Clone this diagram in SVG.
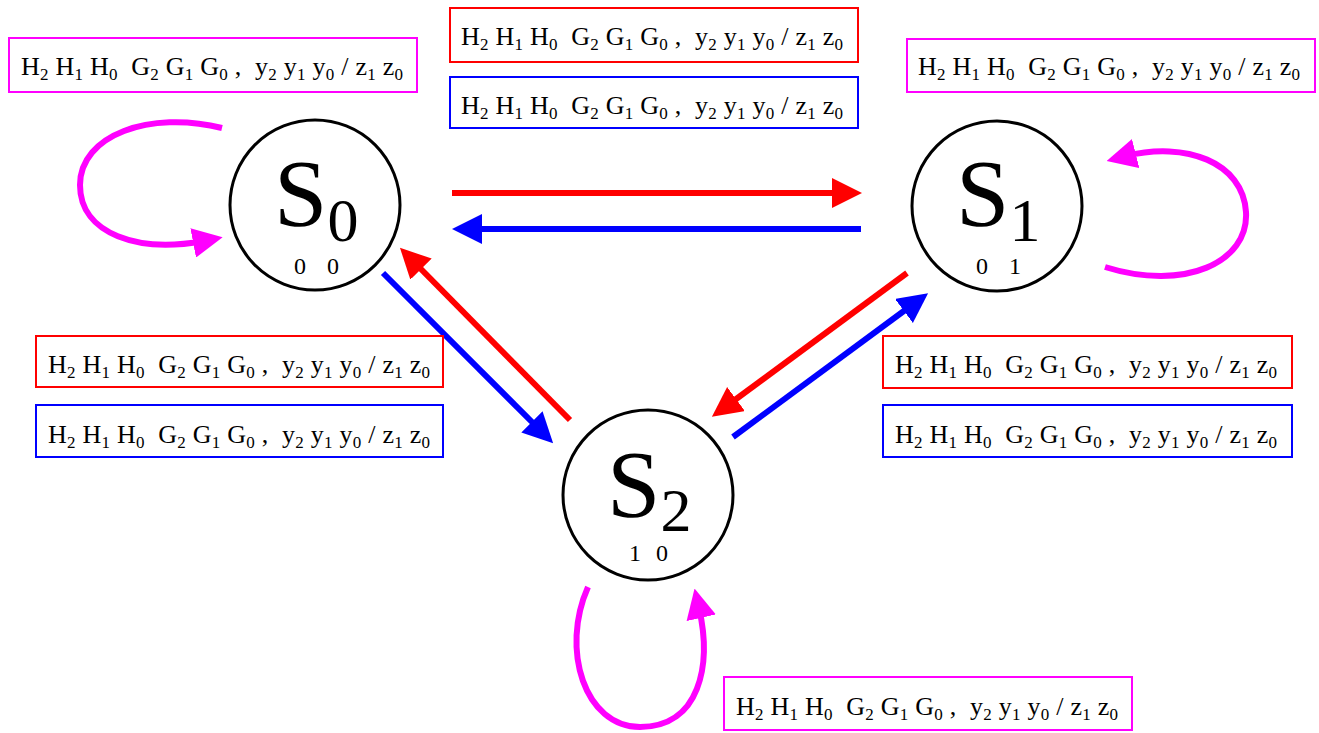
<svg xmlns="http://www.w3.org/2000/svg" width="1319" height="733" viewBox="0 0 1319 733">
<style>
.st{fill:#fff;stroke:#000;stroke-width:3}
.big{font-family:"Liberation Serif","Times New Roman",serif;font-size:96px;fill:#000}
.bsub{font-size:62px}
.code{font-family:"Liberation Serif","Times New Roman",serif;font-size:24px;fill:#000}
.box{fill:#fff;stroke-width:2}
.lbl{font-family:"Liberation Serif","Times New Roman",serif;font-size:26px;fill:#000;white-space:pre}
.s{font-size:17px}
.r{stroke:#ff0000}
.b{stroke:#0000ff}
.m{stroke:#ff00ff}
.e{fill:none;stroke-width:6}
</style>
<defs>
<marker id="ar" markerUnits="userSpaceOnUse" markerWidth="30" markerHeight="30" refX="10" refY="15" orient="auto" viewBox="0 0 30 30"><path d="M0,0 L30,15 L0,30 z" fill="#ff0000"/></marker>
<marker id="ab" markerUnits="userSpaceOnUse" markerWidth="30" markerHeight="30" refX="10" refY="15" orient="auto" viewBox="0 0 30 30"><path d="M0,0 L30,15 L0,30 z" fill="#0000ff"/></marker>
<marker id="am" markerUnits="userSpaceOnUse" markerWidth="30" markerHeight="30" refX="10" refY="15" orient="auto" viewBox="0 0 30 30"><path d="M0,0 L30,15 L0,30 z" fill="#ff00ff"/></marker>
</defs>

<g id="connectors">
<path class="e r" d="M452,193 L842,193" marker-end="url(#ar)"/>
<path class="e b" d="M861,229 L472,229" marker-end="url(#ab)"/>
<path class="e r" d="M570,420 L414,262" marker-end="url(#ar)"/>
<path class="e b" d="M383,273 L539,429" marker-end="url(#ab)"/>
<path class="e r" d="M907,273 L728,405" marker-end="url(#ar)"/>
<path class="e b" d="M733,437 L912,305" marker-end="url(#ab)"/>
<path class="e m" d="M222,128 C150,110 80,135 80,185 C80,235 140,253 203,241" marker-end="url(#am)"/>
<path class="e m" d="M1105,267 C1185,292 1249,262 1246,212 C1243,162 1185,141 1126,156" marker-end="url(#am)"/>
<path class="e m" d="M588,587 C560,650 585,727 640,727 C700,727 712,665 699,608" marker-end="url(#am)"/>
</g>

<g id="S0">
<circle class="st" cx="315" cy="205" r="85"/>
<text class="big" x="274" y="226">S<tspan class="bsub" dy="15">0</tspan></text>
<text class="code" y="274"><tspan x="294">0</tspan><tspan x="327">0</tspan></text>
</g>
<g id="S1">
<circle class="st" cx="997" cy="206" r="85"/>
<text class="big" x="956" y="226">S<tspan class="bsub" dy="15">1</tspan></text>
<text class="code" y="274"><tspan x="976">0</tspan><tspan x="1009">1</tspan></text>
</g>
<g id="S2">
<circle class="st" cx="648" cy="495" r="85"/>
<text class="big" x="607" y="517">S<tspan class="bsub" dy="14">2</tspan></text>
<text class="code" y="561"><tspan x="629">1</tspan><tspan x="656">0</tspan></text>
</g>

<g id="label-S0-loop">
<rect class="box m" x="9" y="38" width="408" height="54"/>
<text class="lbl" x="21" y="75" textLength="382" lengthAdjust="spacing" xml:space="preserve">H<tspan class="s" dy="5">2</tspan><tspan dy="-5"> H</tspan><tspan class="s" dy="5">1</tspan><tspan dy="-5"> H</tspan><tspan class="s" dy="5">0</tspan><tspan dy="-5">  G</tspan><tspan class="s" dy="5">2</tspan><tspan dy="-5"> G</tspan><tspan class="s" dy="5">1</tspan><tspan dy="-5"> G</tspan><tspan class="s" dy="5">0</tspan><tspan dy="-5"> ,  y</tspan><tspan class="s" dy="5">2</tspan><tspan dy="-5"> y</tspan><tspan class="s" dy="5">1</tspan><tspan dy="-5"> y</tspan><tspan class="s" dy="5">0</tspan><tspan dy="-5"> / z</tspan><tspan class="s" dy="5">1</tspan><tspan dy="-5"> z</tspan><tspan class="s" dy="5">0</tspan></text>
</g>
<g id="label-S0-S1">
<rect class="box r" x="450" y="8" width="408" height="54"/>
<text class="lbl" x="461" y="45" textLength="382" lengthAdjust="spacing" xml:space="preserve">H<tspan class="s" dy="5">2</tspan><tspan dy="-5"> H</tspan><tspan class="s" dy="5">1</tspan><tspan dy="-5"> H</tspan><tspan class="s" dy="5">0</tspan><tspan dy="-5">  G</tspan><tspan class="s" dy="5">2</tspan><tspan dy="-5"> G</tspan><tspan class="s" dy="5">1</tspan><tspan dy="-5"> G</tspan><tspan class="s" dy="5">0</tspan><tspan dy="-5"> ,  y</tspan><tspan class="s" dy="5">2</tspan><tspan dy="-5"> y</tspan><tspan class="s" dy="5">1</tspan><tspan dy="-5"> y</tspan><tspan class="s" dy="5">0</tspan><tspan dy="-5"> / z</tspan><tspan class="s" dy="5">1</tspan><tspan dy="-5"> z</tspan><tspan class="s" dy="5">0</tspan></text>
</g>
<g id="label-S1-S0">
<rect class="box b" x="450" y="77" width="408" height="51"/>
<text class="lbl" x="461" y="114" textLength="382" lengthAdjust="spacing" xml:space="preserve">H<tspan class="s" dy="5">2</tspan><tspan dy="-5"> H</tspan><tspan class="s" dy="5">1</tspan><tspan dy="-5"> H</tspan><tspan class="s" dy="5">0</tspan><tspan dy="-5">  G</tspan><tspan class="s" dy="5">2</tspan><tspan dy="-5"> G</tspan><tspan class="s" dy="5">1</tspan><tspan dy="-5"> G</tspan><tspan class="s" dy="5">0</tspan><tspan dy="-5"> ,  y</tspan><tspan class="s" dy="5">2</tspan><tspan dy="-5"> y</tspan><tspan class="s" dy="5">1</tspan><tspan dy="-5"> y</tspan><tspan class="s" dy="5">0</tspan><tspan dy="-5"> / z</tspan><tspan class="s" dy="5">1</tspan><tspan dy="-5"> z</tspan><tspan class="s" dy="5">0</tspan></text>
</g>
<g id="label-S1-loop">
<rect class="box m" x="907" y="39" width="408" height="53"/>
<text class="lbl" x="918" y="75" textLength="382" lengthAdjust="spacing" xml:space="preserve">H<tspan class="s" dy="5">2</tspan><tspan dy="-5"> H</tspan><tspan class="s" dy="5">1</tspan><tspan dy="-5"> H</tspan><tspan class="s" dy="5">0</tspan><tspan dy="-5">  G</tspan><tspan class="s" dy="5">2</tspan><tspan dy="-5"> G</tspan><tspan class="s" dy="5">1</tspan><tspan dy="-5"> G</tspan><tspan class="s" dy="5">0</tspan><tspan dy="-5"> ,  y</tspan><tspan class="s" dy="5">2</tspan><tspan dy="-5"> y</tspan><tspan class="s" dy="5">1</tspan><tspan dy="-5"> y</tspan><tspan class="s" dy="5">0</tspan><tspan dy="-5"> / z</tspan><tspan class="s" dy="5">1</tspan><tspan dy="-5"> z</tspan><tspan class="s" dy="5">0</tspan></text>
</g>
<g id="label-S2-S0">
<rect class="box r" x="36" y="336" width="407" height="51"/>
<text class="lbl" x="48" y="373" textLength="382" lengthAdjust="spacing" xml:space="preserve">H<tspan class="s" dy="5">2</tspan><tspan dy="-5"> H</tspan><tspan class="s" dy="5">1</tspan><tspan dy="-5"> H</tspan><tspan class="s" dy="5">0</tspan><tspan dy="-5">  G</tspan><tspan class="s" dy="5">2</tspan><tspan dy="-5"> G</tspan><tspan class="s" dy="5">1</tspan><tspan dy="-5"> G</tspan><tspan class="s" dy="5">0</tspan><tspan dy="-5"> ,  y</tspan><tspan class="s" dy="5">2</tspan><tspan dy="-5"> y</tspan><tspan class="s" dy="5">1</tspan><tspan dy="-5"> y</tspan><tspan class="s" dy="5">0</tspan><tspan dy="-5"> / z</tspan><tspan class="s" dy="5">1</tspan><tspan dy="-5"> z</tspan><tspan class="s" dy="5">0</tspan></text>
</g>
<g id="label-S0-S2">
<rect class="box b" x="36" y="405" width="407" height="52"/>
<text class="lbl" x="48" y="443" textLength="382" lengthAdjust="spacing" xml:space="preserve">H<tspan class="s" dy="5">2</tspan><tspan dy="-5"> H</tspan><tspan class="s" dy="5">1</tspan><tspan dy="-5"> H</tspan><tspan class="s" dy="5">0</tspan><tspan dy="-5">  G</tspan><tspan class="s" dy="5">2</tspan><tspan dy="-5"> G</tspan><tspan class="s" dy="5">1</tspan><tspan dy="-5"> G</tspan><tspan class="s" dy="5">0</tspan><tspan dy="-5"> ,  y</tspan><tspan class="s" dy="5">2</tspan><tspan dy="-5"> y</tspan><tspan class="s" dy="5">1</tspan><tspan dy="-5"> y</tspan><tspan class="s" dy="5">0</tspan><tspan dy="-5"> / z</tspan><tspan class="s" dy="5">1</tspan><tspan dy="-5"> z</tspan><tspan class="s" dy="5">0</tspan></text>
</g>
<g id="label-S1-S2">
<rect class="box r" x="883" y="336" width="409" height="52"/>
<text class="lbl" x="895" y="373" textLength="382" lengthAdjust="spacing" xml:space="preserve">H<tspan class="s" dy="5">2</tspan><tspan dy="-5"> H</tspan><tspan class="s" dy="5">1</tspan><tspan dy="-5"> H</tspan><tspan class="s" dy="5">0</tspan><tspan dy="-5">  G</tspan><tspan class="s" dy="5">2</tspan><tspan dy="-5"> G</tspan><tspan class="s" dy="5">1</tspan><tspan dy="-5"> G</tspan><tspan class="s" dy="5">0</tspan><tspan dy="-5"> ,  y</tspan><tspan class="s" dy="5">2</tspan><tspan dy="-5"> y</tspan><tspan class="s" dy="5">1</tspan><tspan dy="-5"> y</tspan><tspan class="s" dy="5">0</tspan><tspan dy="-5"> / z</tspan><tspan class="s" dy="5">1</tspan><tspan dy="-5"> z</tspan><tspan class="s" dy="5">0</tspan></text>
</g>
<g id="label-S2-S1">
<rect class="box b" x="883" y="405" width="409" height="52"/>
<text class="lbl" x="895" y="443" textLength="382" lengthAdjust="spacing" xml:space="preserve">H<tspan class="s" dy="5">2</tspan><tspan dy="-5"> H</tspan><tspan class="s" dy="5">1</tspan><tspan dy="-5"> H</tspan><tspan class="s" dy="5">0</tspan><tspan dy="-5">  G</tspan><tspan class="s" dy="5">2</tspan><tspan dy="-5"> G</tspan><tspan class="s" dy="5">1</tspan><tspan dy="-5"> G</tspan><tspan class="s" dy="5">0</tspan><tspan dy="-5"> ,  y</tspan><tspan class="s" dy="5">2</tspan><tspan dy="-5"> y</tspan><tspan class="s" dy="5">1</tspan><tspan dy="-5"> y</tspan><tspan class="s" dy="5">0</tspan><tspan dy="-5"> / z</tspan><tspan class="s" dy="5">1</tspan><tspan dy="-5"> z</tspan><tspan class="s" dy="5">0</tspan></text>
</g>
<g id="label-S2-loop">
<rect class="box m" x="724" y="677" width="408" height="53"/>
<text class="lbl" x="736" y="715" textLength="382" lengthAdjust="spacing" xml:space="preserve">H<tspan class="s" dy="5">2</tspan><tspan dy="-5"> H</tspan><tspan class="s" dy="5">1</tspan><tspan dy="-5"> H</tspan><tspan class="s" dy="5">0</tspan><tspan dy="-5">  G</tspan><tspan class="s" dy="5">2</tspan><tspan dy="-5"> G</tspan><tspan class="s" dy="5">1</tspan><tspan dy="-5"> G</tspan><tspan class="s" dy="5">0</tspan><tspan dy="-5"> ,  y</tspan><tspan class="s" dy="5">2</tspan><tspan dy="-5"> y</tspan><tspan class="s" dy="5">1</tspan><tspan dy="-5"> y</tspan><tspan class="s" dy="5">0</tspan><tspan dy="-5"> / z</tspan><tspan class="s" dy="5">1</tspan><tspan dy="-5"> z</tspan><tspan class="s" dy="5">0</tspan></text>
</g>
</svg>
